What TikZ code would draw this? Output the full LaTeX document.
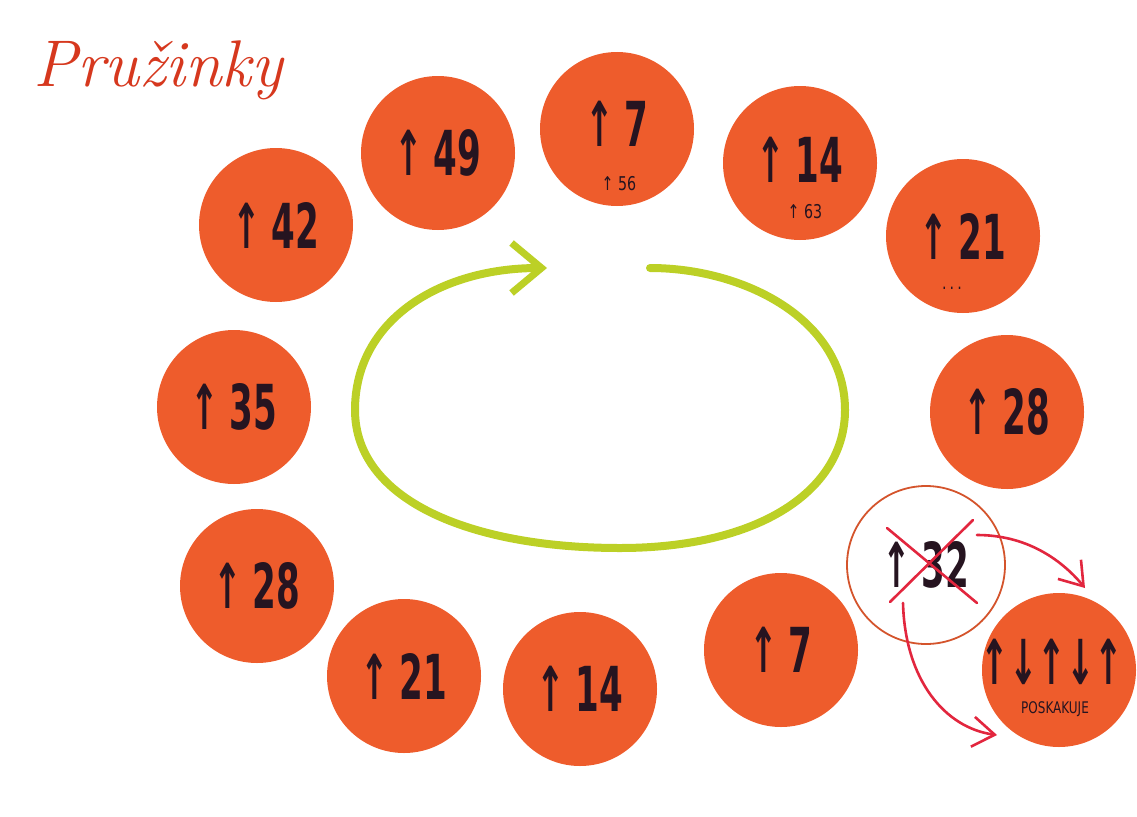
\documentclass[tikz,border=0pt]{standalone}
\usepackage{fontspec}
\usetikzlibrary{arrows.meta}
\newfontfamily\hand[FakeStretch=0.55]{DejaVu Sans}
\newfontfamily\thinhand[FakeStretch=0.75]{DejaVu Sans}
\definecolor{dotfill}{RGB}{238,92,44}
\definecolor{ink}{RGB}{38,20,32}
\definecolor{loopgreen}{RGB}{188,208,38}
\definecolor{redpen}{RGB}{226,38,62}
\definecolor{ringpen}{RGB}{212,84,44}
\definecolor{titlered}{RGB}{214,56,30}
\tikzset{
  bigtext/.style={text=ink, font=\hand\bfseries\fontsize{62}{62}\selectfont},
  dot/.style={circle, fill=dotfill, minimum size=154pt, inner sep=0pt, bigtext},
  ring/.style={circle, draw=ringpen, line width=1.8pt, minimum size=158pt, inner sep=0pt, bigtext},
  note/.style={text=ink, inner sep=0pt, font=\thinhand\fontsize{19}{19}\selectfont},
  greenloop/.style={draw=loopgreen, line width=8pt, line cap=round,
    -{Straight Barb[length=30pt,width=50pt,line width=7pt]}},
  redarrow/.style={draw=redpen, line width=2.6pt, line cap=round,
    -{Straight Barb[length=22pt,width=30pt,line width=2.6pt]}},
  crossline/.style={draw=redpen, line width=2.6pt, line cap=round},
  title/.style={text=titlered, inner sep=0pt, font=\itshape\fontsize{66}{66}\selectfont}
}
\begin{document}
\begin{tikzpicture}[x=1pt,y=-1pt]
\useasboundingbox (0,0) rectangle (1137,816);
% title
\node[title] (title) at (158,70) {Pružinky};
% circles
\node[dot] (c49) at (438,153) {↑\,49};
\node[dot] (c7t) at (617,129) {};
\node[bigtext] (t7t) at (617,124) {↑\,7};
\node[note] (s56) at (619,184) {↑ 56};
\node[dot] (c14t) at (800,163) {};
\node[bigtext] (t14t) at (800,160) {↑\,14};
\node[note] (s63) at (805,212) {↑ 63};
\node[dot] (c21r) at (963,236) {↑\,21};
\node[note] (dots) at (952,288) {.\,.\,.};
\node[dot] (c28r) at (1007,412) {↑\,28};
\node[dot] (c42) at (276,225) {↑\,42};
\node[dot] (c35) at (234,407) {↑\,35};
\node[dot] (c28l) at (257,586) {↑\,28};
\node[dot] (c21b) at (404,676) {↑\,21};
\node[dot] (c14b) at (580,689) {↑\,14};
\node[dot] (c7b) at (781,650) {↑\,7};
\node[ring] (c32) at (926,565) {↑\,32};
\node[dot] (cp) at (1059,670) {};
\node[bigtext] (tp) at (1052,662) {↑↓↑↓↑};
\node[note, font=\thinhand\fontsize{16}{16}\selectfont] (pos) at (1055,709) {POSKAKUJE};
% cross over 32
\coordinate (x1a) at (887,528);
\coordinate (x1b) at (977,603);
\coordinate (x2a) at (973,520);
\coordinate (x2b) at (890,602);
\draw[crossline] (x1a) -- (x1b);
\draw[crossline] (x2a) -- (x2b);
% red arrows
\coordinate (r1s) at (977,535);
\coordinate (r1e) at (1085,588);
\coordinate (r2s) at (903,603);
\coordinate (r2e) at (997,735);
\draw[redarrow] (r1s) .. controls (1025,535) and (1060,558) .. (r1e);
\draw[redarrow] (r2s) .. controls (905,680) and (945,728) .. (r2e);
% green loop
\coordinate (g0) at (650,268);
\coordinate (g1) at (845,410);
\coordinate (g2) at (620,548);
\coordinate (g3) at (355,410);
\coordinate (g4) at (547,268);
\draw[greenloop] (g0) .. controls (745,268) and (845,320) .. (g1)
  .. controls (845,490) and (760,548) .. (g2)
  .. controls (470,548) and (355,500) .. (g3)
  .. controls (355,320) and (440,268) .. (g4);
\end{tikzpicture}
\end{document}
